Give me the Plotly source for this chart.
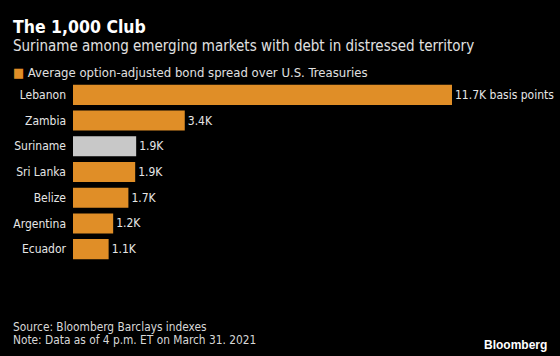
import plotly.graph_objects as go

countries = ["Lebanon", "Zambia", "Suriname", "Sri Lanka", "Belize", "Argentina", "Ecuador"]
spread_k = [11.7, 3.45, 1.95, 1.92, 1.71, 1.24, 1.1]
value_labels = ["11.7K basis points", "3.4K", "1.9K", "1.9K", "1.7K", "1.2K", "1.1K"]
highlight = "Suriname"
legend_label = "Average option-adjusted bond spread over U.S. Treasuries"

ORANGE = "#e08e27"
GRAY = "#c8c8c8"
FONT = "DejaVu Sans Condensed, Liberation Sans Narrow, sans-serif"

colors = [GRAY if c == highlight else ORANGE for c in countries]

L, R, T, B = 73, 108, 82, 94
PW, PH = 560 - L - R, 356 - T - B

fig = go.Figure()
fig.add_trace(go.Bar(
    x=spread_k, y=countries, orientation="h",
    marker=dict(color=colors, line=dict(width=0)),
    text=value_labels, textposition="outside", cliponaxis=False,
    constraintext="none",
    textfont=dict(color="#e6e6e6", size=12, family=FONT),
    showlegend=False, hoverinfo="skip",
))

fig.update_layout(
    width=560, height=356,
    paper_bgcolor="black", plot_bgcolor="black",
    margin=dict(l=L, r=R, t=T, b=B, autoexpand=False),
    bargap=0.22,
    font=dict(family=FONT, color="#e6e6e6", size=12),
    xaxis=dict(range=[0, 11.7], visible=False, fixedrange=True),
    yaxis=dict(autorange="reversed", showgrid=False, zeroline=False, showline=False,
               ticks="", ticklabelstandoff=6, fixedrange=True,
               tickfont=dict(size=12, color="#e6e6e6", family=FONT)),
    showlegend=False,
)

def px_x(x):
    return (x - L) / PW

def px_y(y):
    return (356 - B - y) / PH

fig.add_annotation(xref="paper", yref="paper", x=px_x(11), y=px_y(27),
                   xanchor="left", yanchor="middle", showarrow=False,
                   text="<b>The 1,000 Club</b>",
                   font=dict(size=17.5, color="white", family=FONT))
fig.add_annotation(xref="paper", yref="paper", x=px_x(11), y=px_y(46),
                   xanchor="left", yanchor="middle", showarrow=False,
                   text="Suriname among emerging markets with debt in distressed territory",
                   font=dict(size=15, color="#e0e0e0", family=FONT))
fig.add_annotation(xref="paper", yref="paper", x=px_x(11), y=px_y(72),
                   xanchor="left", yanchor="middle", showarrow=False,
                   text=f"<span style='color:{ORANGE}'>■</span> {legend_label}",
                   font=dict(size=13, color="#e0e0e0", family=FONT))
fig.add_annotation(xref="paper", yref="paper", x=px_x(11), y=px_y(326.5),
                   xanchor="left", yanchor="middle", showarrow=False,
                   text="Source: Bloomberg Barclays indexes",
                   font=dict(size=11.8, color="#d8d8d8", family=FONT))
fig.add_annotation(xref="paper", yref="paper", x=px_x(11), y=px_y(339.5),
                   xanchor="left", yanchor="middle", showarrow=False,
                   text="Note: Data as of 4 p.m. ET on March 31. 2021",
                   font=dict(size=11.8, color="#d8d8d8", family=FONT))
fig.add_annotation(xref="paper", yref="paper", x=px_x(549), y=px_y(345),
                   xanchor="right", yanchor="middle", showarrow=False,
                   text="<b>Bloomberg</b>",
                   font=dict(size=12, color="white", family="Liberation Sans, Arial, sans-serif"))

fig.write_html("out.html", config={"displayModeBar": False},
               post_script="document.body.style.margin='0';document.body.style.background='black';")
